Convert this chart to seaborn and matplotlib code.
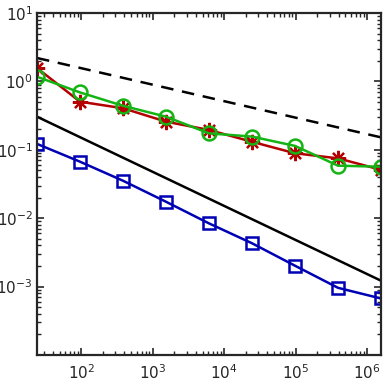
import matplotlib
matplotlib.use('Agg')
import matplotlib.pyplot as plt
import seaborn as sns
import numpy as np
import pandas as pd
from matplotlib.ticker import LogLocator, NullFormatter

# data
n_dofs = [24, 96, 384, 1536, 6144, 24576, 98304, 393216, 1572864]
err_blue = [0.122, 0.067, 0.0353, 0.0174, 0.0084, 0.0043, 0.00202, 0.00096, 0.00067]
err_red = [1.57, 0.505, 0.405, 0.258, 0.195, 0.131, 0.089, 0.075, 0.051]
err_green = [1.17, 0.69, 0.44, 0.305, 0.174, 0.156, 0.114, 0.0586, 0.0566]

# reference slopes (endpoints)
ref_x = [24, 1572864]
ref_quarter = [2.2, 0.152]
ref_half = [0.305, 0.00122]

sns.set_style('ticks')
plt.rcParams['font.family'] = ['DejaVu Sans']

fig = plt.figure(figsize=(3.9, 3.86), dpi=100)
ax = fig.add_axes([37 / 390, 1 - 355 / 386, 344 / 390, 342 / 386])

sns.lineplot(x=ref_x, y=ref_quarter, ax=ax, color='black', linewidth=1.8,
             linestyle=(0, (5, 3.5)))
sns.lineplot(x=ref_x, y=ref_half, ax=ax, color='black', linewidth=1.8)

style = dict(linewidth=1.8, markersize=9, markeredgewidth=1.8)
sns.lineplot(x=n_dofs, y=err_red, ax=ax, color='#b40000', marker=(8, 2, 0),
             markeredgecolor='#b40000', **dict(style, markersize=11, markeredgewidth=1.6))
sns.lineplot(x=n_dofs, y=err_green, ax=ax, color='#14b414', marker='o',
             markerfacecolor='none', markeredgecolor='#14b414',
             **dict(style, markersize=10))
sns.lineplot(x=n_dofs, y=err_blue, ax=ax, color='#0000b4', marker='s',
             markerfacecolor='none', markeredgecolor='#0000b4',
             **dict(style, markersize=8.5))

ax.set_xscale('log')
ax.set_yscale('log')

ax.xaxis.set_minor_locator(LogLocator(base=10, subs=np.arange(2, 10), numticks=20))
ax.yaxis.set_minor_locator(LogLocator(base=10, subs=np.arange(2, 10), numticks=20))
ax.xaxis.set_minor_formatter(NullFormatter())
ax.yaxis.set_minor_formatter(NullFormatter())

ax.set_yticks([1e-3, 1e-2, 1e-1, 1e0, 1e1])
ax.set_yticklabels(['$10^{-3}$', '$10^{-2}$', '$10^{-1}$', '$10^{0}$', '$10^{1}$'])
ax.set_xticks([1e2, 1e3, 1e4, 1e5, 1e6])
ax.set_xticklabels(['$10^{2}$', '$10^{3}$', '$10^{4}$', '$10^{5}$', '$10^{6}$'])
ax.set_xlim(24, 1572864)
ax.set_ylim(1e-4, 1e1)

for s in ax.spines.values():
    s.set_visible(True)
    s.set_color('#262626')
    s.set_linewidth(1.6)
ax.tick_params(which='both', direction='in', top=True, right=True,
               colors='#262626', labelsize=11)
ax.tick_params(which='major', length=5, width=1.2)
ax.tick_params(which='minor', length=3, width=1.0)
ax.tick_params(axis='x', pad=6)
ax.tick_params(axis='y', pad=3)

fig.savefig('out.png', dpi=100)
